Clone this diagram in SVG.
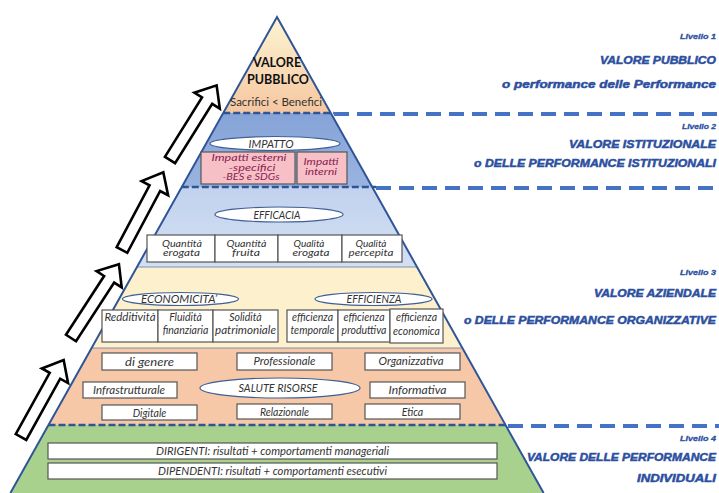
<svg xmlns="http://www.w3.org/2000/svg" width="719" height="493" viewBox="0 0 719 493">
<defs>
<linearGradient id="gTop" x1="0" y1="0" x2="0" y2="1"><stop offset="0" stop-color="#fdf5d2"/><stop offset="1" stop-color="#f5c6a0"/></linearGradient>
<linearGradient id="gBlue" x1="0" y1="0" x2="0" y2="1"><stop offset="0" stop-color="#86a3d8"/><stop offset="1" stop-color="#9ab4e0"/></linearGradient>
<linearGradient id="gLight" x1="0" y1="0" x2="0" y2="1"><stop offset="0" stop-color="#c2d2ee"/><stop offset="1" stop-color="#d3dff3"/></linearGradient>
<path id="arrow" d="M0,-6 L70,-6 L70,-15 L88,0 L70,15 L70,6 L0,6 Z"/>
<style>
.box{fill:#ffffff;stroke:#555555;stroke-width:1.2}
.pink{fill:#f6c0c6;stroke:#555555;stroke-width:1.2}
.ell{fill:#ffffff;stroke:#3f5f95;stroke-width:1.2}
.t{font-family:Lato,"Liberation Sans",sans-serif;font-style:italic;fill:#333333;text-anchor:middle;font-size:10.5px}
.tq{font-family:Lato,"Liberation Sans",sans-serif;font-style:italic;fill:#333333;text-anchor:middle;font-size:9px}
.tp{font-family:Lato,"Liberation Sans",sans-serif;font-style:italic;fill:#8a2052;text-anchor:middle;font-size:9px}
.lv{font-family:"Liberation Sans",Arial,sans-serif;font-weight:bold;font-style:italic;fill:#2c4f9f;stroke:#2c4f9f;stroke-width:0.5;text-anchor:end;font-size:11px}
.lvs{font-family:"Liberation Sans",Arial,sans-serif;font-weight:bold;font-style:italic;fill:#2c4f9f;stroke:#2c4f9f;stroke-width:0.3;text-anchor:end;font-size:8px}
.arr{fill:#ffffff;stroke:#000000;stroke-width:2.6;stroke-linejoin:miter}
.dashIn{fill:none;stroke:#2f5597;stroke-width:2.5;stroke-dasharray:7 3}
.dashOut{fill:none;stroke:#4472c4;stroke-width:4;stroke-dasharray:15 8}
.sep{fill:none;stroke:#8090b0;stroke-width:1}
</style>
</defs>
<rect width="719" height="493" fill="#ffffff"/>

<g id="bands">
<polygon points="277,17 330.8,113 223.2,113" fill="url(#gTop)"/>
<polygon points="223.2,113 330.8,113 372.2,187 181.8,187" fill="url(#gBlue)"/>
<polygon points="181.8,187 372.2,187 417,267 137,267" fill="url(#gLight)"/>
<polygon points="137,267 417,267 462.4,348 91.6,348" fill="#fdf0cd"/>
<polygon points="91.6,348 462.4,348 505.5,425 48.5,425" fill="#f7c8a8"/>
<polygon points="48.5,425 505.5,425 543.6,493 10.4,493" fill="#a9d18e"/>
<line class="sep" x1="137" y1="267" x2="417" y2="267"/>
<line class="sep" x1="91.6" y1="348" x2="462.4" y2="348"/>
<polyline points="10.4,493 277,17 543.6,493" fill="none" stroke="#2f5597" stroke-width="2"/>
</g>

<g id="connectors">
<line class="dashIn" x1="223.2" y1="113" x2="334" y2="113"/>
<line class="dashOut" x1="334" y1="114" x2="719" y2="114"/>
<line class="dashIn" x1="181.8" y1="187" x2="376" y2="187"/>
<line class="dashOut" x1="376" y1="188" x2="719" y2="188"/>
<line class="dashIn" x1="48.5" y1="425" x2="508" y2="425"/>
<line class="dashOut" x1="508" y1="426" x2="719" y2="426"/>
<use href="#arrow" class="arr" transform="translate(21,437) rotate(-61)"/>
<use href="#arrow" class="arr" transform="translate(71,338) rotate(-57)"/>
<use href="#arrow" class="arr" transform="translate(122,250) rotate(-62)"/>
<use href="#arrow" class="arr" transform="translate(170,160) rotate(-58)"/>
</g>

<g id="valore-pubblico">
<text x="277" y="67" font-family="Lato,'Liberation Sans',sans-serif" font-weight="bold" font-size="12.5" fill="#111" text-anchor="middle">VALORE</text>
<text x="278" y="84" font-family="Lato,'Liberation Sans',sans-serif" font-weight="bold" font-size="12.5" fill="#111" text-anchor="middle">PUBBLICO</text>
<text x="276" y="106" font-family="Lato,'Liberation Sans',sans-serif" font-size="10.5" fill="#333" text-anchor="middle" textLength="92" lengthAdjust="spacingAndGlyphs">Sacrifici &lt; Benefici</text>
</g>

<g id="impatto">
<ellipse class="ell" cx="275" cy="143.5" rx="65" ry="7"/>
<text class="t" x="271" y="147.5" font-size="10" textLength="45" lengthAdjust="spacingAndGlyphs">IMPATTO</text>
<rect class="pink" x="201" y="152" width="94" height="32"/>
<text class="tp" x="249" y="161" textLength="75" lengthAdjust="spacingAndGlyphs">Impatti esterni</text>
<text class="tp" x="252" y="170.5" textLength="47" lengthAdjust="spacingAndGlyphs">-specifici</text>
<text class="tp" x="251" y="180" textLength="57" lengthAdjust="spacingAndGlyphs">-BES e SDGs</text>
<rect class="pink" x="297" y="152" width="50" height="32"/>
<text class="tp" x="321" y="165" textLength="35" lengthAdjust="spacingAndGlyphs">Impatti</text>
<text class="tp" x="321" y="175" textLength="32" lengthAdjust="spacingAndGlyphs">interni</text>
</g>

<g id="efficacia">
<ellipse class="ell" cx="279" cy="214.5" rx="64" ry="7.5"/>
<text class="t" x="277" y="218.5" textLength="47" lengthAdjust="spacingAndGlyphs">EFFICACIA</text>
<rect class="box" x="147" y="235" width="68" height="27"/>
<rect class="box" x="215" y="235" width="63" height="27"/>
<rect class="box" x="278" y="235" width="64" height="27"/>
<rect class="box" x="342" y="235" width="60" height="27"/>
<text class="tq" x="182" y="246.5" textLength="40" lengthAdjust="spacingAndGlyphs">Quantità</text><text class="tq" x="181.5" y="256" textLength="37" lengthAdjust="spacingAndGlyphs">erogata</text>
<text class="tq" x="246.5" y="246.5" textLength="40" lengthAdjust="spacingAndGlyphs">Quantità</text><text class="tq" x="246" y="256" textLength="28" lengthAdjust="spacingAndGlyphs">fruita</text>
<text class="tq" x="309" y="246.5" textLength="31" lengthAdjust="spacingAndGlyphs">Qualità</text><text class="tq" x="311" y="256" textLength="37" lengthAdjust="spacingAndGlyphs">erogata</text>
<text class="tq" x="371" y="246.5" textLength="31" lengthAdjust="spacingAndGlyphs">Qualità</text><text class="tq" x="371" y="256" textLength="45" lengthAdjust="spacingAndGlyphs">percepita</text>
</g>

<g id="economicita">
<ellipse class="ell" cx="180.5" cy="299" rx="58" ry="6.5"/>
<text class="t" x="179" y="302.5" textLength="76" lengthAdjust="spacingAndGlyphs">ECONOMICITA’</text>
<rect class="box" x="102" y="310" width="56" height="32"/>
<rect class="box" x="158" y="310" width="55" height="32"/>
<rect class="box" x="213" y="310" width="65" height="32"/>
<text class="t" x="130" y="321" textLength="51" lengthAdjust="spacingAndGlyphs">Redditività</text>
<text class="t" x="185.5" y="321">Fluidità</text><text class="t" x="185.5" y="334">finanziaria</text>
<text class="t" x="245.5" y="321">Solidità</text><text class="t" x="245.5" y="334" textLength="61" lengthAdjust="spacingAndGlyphs">patrimoniale</text>
</g>

<g id="efficienza">
<ellipse class="ell" cx="373.5" cy="299" rx="58.5" ry="6.5"/>
<text class="t" x="374" y="302.5" textLength="55" lengthAdjust="spacingAndGlyphs">EFFICIENZA</text>
<rect class="box" x="287" y="310" width="51" height="32"/>
<rect class="box" x="338" y="310" width="52" height="32"/>
<rect class="box" x="390" y="309" width="53" height="34"/>
<text class="t" x="312.5" y="321">efficienza</text><text class="t" x="312.5" y="334">temporale</text>
<text class="t" x="364" y="321">efficienza</text><text class="t" x="364" y="334">produttiva</text>
<text class="t" x="416.5" y="321">efficienza</text><text class="t" x="416.5" y="335">economica</text>
</g>

<g id="salute-risorse">
<ellipse class="ell" cx="280" cy="388" rx="80" ry="10"/>
<text class="t" x="278" y="392" textLength="79" lengthAdjust="spacingAndGlyphs">SALUTE RISORSE</text>
<rect class="box" x="102" y="353" width="95" height="17"/>
<text class="t" x="149.5" y="365.5" font-size="11" textLength="49" lengthAdjust="spacingAndGlyphs">di genere</text>
<rect class="box" x="237" y="353" width="95" height="17"/>
<text class="t" x="284.5" y="365" font-size="11" textLength="62" lengthAdjust="spacingAndGlyphs">Professionale</text>
<rect class="box" x="365" y="353" width="95" height="17"/>
<text class="t" x="411" y="365" font-size="11" textLength="65" lengthAdjust="spacingAndGlyphs">Organizzativa</text>
<rect class="box" x="83" y="382" width="94" height="16"/>
<text class="t" x="129" y="394" font-size="11" textLength="72" lengthAdjust="spacingAndGlyphs">Infrastrutturale</text>
<rect class="box" x="370" y="382" width="95" height="16"/>
<text class="t" x="417.5" y="394" font-size="11" textLength="58" lengthAdjust="spacingAndGlyphs">Informativa</text>
<rect class="box" x="102" y="405" width="95" height="15"/>
<text class="t" x="149.5" y="416.5" font-size="11">Digitale</text>
<rect class="box" x="237" y="404" width="95" height="15"/>
<text class="t" x="284.5" y="415.5" font-size="11">Relazionale</text>
<rect class="box" x="365" y="404" width="95" height="15"/>
<text class="t" x="412.5" y="415.5" font-size="11">Etica</text>
</g>

<g id="individuali">
<rect class="box" x="48" y="443" width="449" height="16"/>
<text class="t" x="272.5" y="455" font-size="11" textLength="233" lengthAdjust="spacingAndGlyphs">DIRIGENTI: risultati + comportamenti manageriali</text>
<rect class="box" x="48" y="463" width="449" height="16"/>
<text class="t" x="272.5" y="475" font-size="11" textLength="229" lengthAdjust="spacingAndGlyphs">DIPENDENTI: risultati + comportamenti esecutivi</text>
</g>

<g id="livello-1">
<text class="lvs" x="716" y="39" textLength="36" lengthAdjust="spacingAndGlyphs">Livello 1</text>
<text class="lv" x="716" y="64" textLength="116" lengthAdjust="spacingAndGlyphs">VALORE PUBBLICO</text>
<text class="lv" x="716" y="88" textLength="214" lengthAdjust="spacingAndGlyphs">o performance delle Performance</text>
</g>
<g id="livello-2">
<text class="lvs" x="716" y="129" textLength="34" lengthAdjust="spacingAndGlyphs">Livello 2</text>
<text class="lv" x="716" y="148" textLength="147" lengthAdjust="spacingAndGlyphs">VALORE ISTITUZIONALE</text>
<text class="lv" x="716" y="167" textLength="242" lengthAdjust="spacingAndGlyphs">o DELLE PERFORMANCE ISTITUZIONALI</text>
</g>
<g id="livello-3">
<text class="lvs" x="716" y="275" textLength="36" lengthAdjust="spacingAndGlyphs">Livello 3</text>
<text class="lv" x="716" y="297" textLength="122" lengthAdjust="spacingAndGlyphs">VALORE AZIENDALE</text>
<text class="lv" x="716" y="324" textLength="252" lengthAdjust="spacingAndGlyphs">o DELLE PERFORMANCE ORGANIZZATIVE</text>
</g>
<g id="livello-4">
<text class="lvs" x="716" y="441" textLength="36" lengthAdjust="spacingAndGlyphs">Livello 4</text>
<text class="lv" x="716" y="461" textLength="189" lengthAdjust="spacingAndGlyphs">VALORE DELLE PERFORMANCE</text>
<text class="lv" x="716" y="482" textLength="79" lengthAdjust="spacingAndGlyphs">INDIVIDUALI</text>
</g>
</svg>
